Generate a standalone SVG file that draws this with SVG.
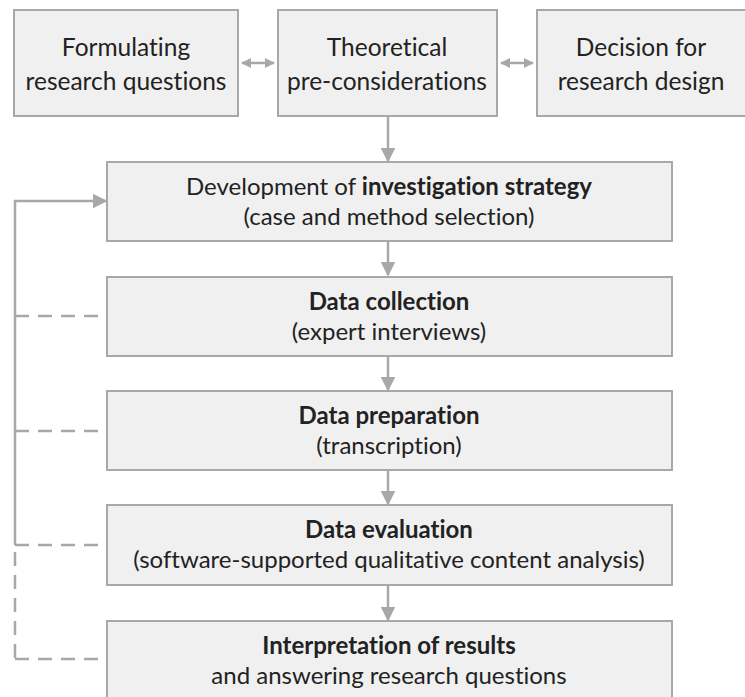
<svg xmlns="http://www.w3.org/2000/svg" width="745" height="697" viewBox="0 0 745 697">
<style>
.box{fill:#f0f0f0;stroke:#a8a8a8;stroke-width:2}
.t{font-family:Lato,"Open Sans","Liberation Sans",sans-serif;font-size:24px;fill:#222;text-anchor:middle;font-variant-ligatures:none}
.tt{font-size:24.5px}
.b{font-weight:bold}
.c{stroke:#a8a8a8;stroke-width:2.5;fill:none}
.d{stroke:#a8a8a8;stroke-width:2.5;fill:none;stroke-dasharray:14,9}
</style>
<defs>
<marker id="ah" viewBox="0 0 10 10" refX="9" refY="5" markerWidth="6" markerHeight="6" orient="auto-start-reverse" markerUnits="strokeWidth">
<path d="M0,0 L10,5 L0,10 z" fill="#a8a8a8"/>
</marker>
<marker id="sh" viewBox="0 0 10 10" refX="9" refY="5" markerWidth="4" markerHeight="4" orient="auto-start-reverse" markerUnits="strokeWidth">
<path d="M0,0 L10,5 L0,10 z" fill="#a8a8a8"/>
</marker>
</defs>
<g id="connectors">
<line class="c" x1="242" y1="63" x2="274" y2="63" marker-start="url(#sh)" marker-end="url(#sh)"/>
<line class="c" x1="501" y1="63" x2="533" y2="63" marker-start="url(#sh)" marker-end="url(#sh)"/>
<line class="c" x1="388" y1="116" x2="388" y2="161" marker-end="url(#ah)"/>
<line class="c" x1="388" y1="241" x2="388" y2="275" marker-end="url(#ah)"/>
<line class="c" x1="388" y1="356" x2="388" y2="390" marker-end="url(#ah)"/>
<line class="c" x1="388" y1="470" x2="388" y2="504" marker-end="url(#ah)"/>
<line class="c" x1="388" y1="585" x2="388" y2="620" marker-end="url(#ah)"/>
<polyline class="c" points="15,545 15,201 106,201" marker-end="url(#ah)"/>
<line class="d" x1="15" y1="316" x2="106" y2="316"/>
<line class="d" x1="15" y1="431" x2="106" y2="431"/>
<line class="d" x1="15" y1="545" x2="106" y2="545"/>
<line class="d" x1="15" y1="659" x2="106" y2="659"/>
<line class="d" x1="15" y1="552" x2="15" y2="659"/>
</g>
<g id="n1"><rect class="box" x="14" y="10" width="224" height="106"/>
<text class="t tt" x="126" y="56">Formulating</text><text class="t tt" x="126" y="90">research questions</text></g>
<g id="n2"><rect class="box" x="278" y="10" width="219" height="106"/>
<text class="t tt" x="387" y="56">Theoretical</text><text class="t tt" x="387" y="90">pre-considerations</text></g>
<g id="n3"><rect class="box" x="537" y="10" width="215" height="106"/>
<text class="t tt" x="641" y="56">Decision for</text><text class="t tt" x="641" y="90">research design</text></g>
<g id="n4"><rect class="box" x="107" y="162" width="565" height="79"/>
<text class="t" x="389" y="195">Development of <tspan class="b">investigation strategy</tspan></text>
<text class="t" x="389" y="225">(case and method selection)</text></g>
<g id="n5"><rect class="box" x="107" y="277" width="565" height="79"/>
<text class="t b" x="389" y="310">Data collection</text>
<text class="t" x="389" y="340">(expert interviews)</text></g>
<g id="n6"><rect class="box" x="107" y="391" width="565" height="79"/>
<text class="t b" x="389" y="424">Data preparation</text>
<text class="t" x="389" y="454">(transcription)</text></g>
<g id="n7"><rect class="box" x="107" y="505" width="565" height="80"/>
<text class="t b" x="389" y="538">Data evaluation</text>
<text class="t" x="389" y="568">(software-supported qualitative content analysis)</text></g>
<g id="n8"><rect class="box" x="107" y="621" width="565" height="82"/>
<text class="t b" x="389" y="654">Interpretation of results</text>
<text class="t" x="389" y="684">and answering research questions</text></g>
</svg>
